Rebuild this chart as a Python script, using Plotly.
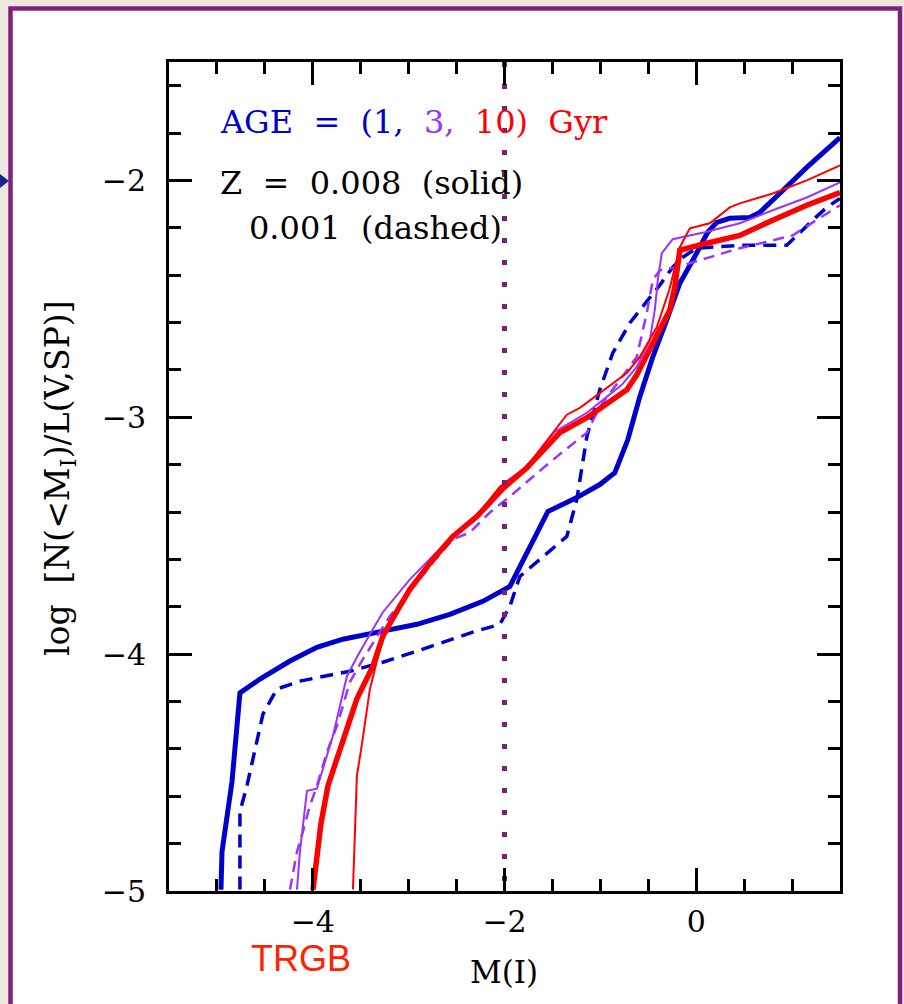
import plotly.graph_objects as go

# ---- data ----
mag_1gyr_z008 = [-4.958, -4.947, -4.843, -4.760, -4.551, -4.238, -3.957, -3.686, -3.269, -2.914,
                 -2.570, -2.226, -1.944, -1.548, -1.246, -1.006, -0.849, -0.714, -0.589, -0.453,
                 -0.307, -0.171, -0.036, 0.120, 0.214, 0.350, 0.558, 0.663, 0.871, 1.153, 1.5]
logn_1gyr_z008 = [-4.994, -4.834, -4.539, -4.164, -4.105, -4.029, -3.971, -3.937, -3.903, -3.874,
                  -3.832, -3.777, -3.714, -3.398, -3.339, -3.284, -3.234, -3.095, -2.914, -2.745,
                  -2.589, -2.434, -2.337, -2.219, -2.177, -2.160, -2.156, -2.135, -2.055, -1.945, -1.819]

mag_1gyr_z001 = [-4.760, -4.760, -4.687, -4.520, -4.374, -4.134, -3.613, -3.269, -2.851, -2.330,
                 -2.049, -1.944, -1.840, -1.350, -1.246, -1.141, -1.006, -0.870, -0.693, -0.516,
                 -0.380, -0.245, -0.140, 0.006, 0.454, 0.944, 1.048, 1.215, 1.361, 1.5]
logn_1gyr_z001 = [-4.994, -4.665, -4.556, -4.253, -4.147, -4.114, -4.072, -4.034, -3.979, -3.907,
                  -3.874, -3.798, -3.672, -3.503, -3.347, -3.082, -2.884, -2.728, -2.602, -2.514,
                  -2.442, -2.366, -2.324, -2.286, -2.274, -2.274, -2.232, -2.168, -2.114, -2.076]

mag_3gyr_z008 = [-4.165, -4.134, -4.061, -3.957, -3.894, -3.790, -3.644, -3.540, -3.404, -3.269,
                 -2.987, -2.747, -2.518, -2.257, -2.017, -1.767, -1.475, -1.141, -0.776, -0.620,
                 -0.484, -0.432, -0.401, -0.359, -0.245, 0.089, 0.454, 0.798, 1.153, 1.5]
logn_3gyr_z008 = [-4.994, -4.834, -4.577, -4.568, -4.484, -4.345, -4.093, -4.013, -3.916, -3.823,
                  -3.684, -3.583, -3.491, -3.398, -3.297, -3.208, -3.061, -2.981, -2.863, -2.787,
                  -2.674, -2.547, -2.421, -2.307, -2.248, -2.219, -2.181, -2.126, -2.072, -2.008]

mag_3gyr_z001 = [-4.238, -4.165, -4.103, -4.030, -3.957, -3.852, -3.748, -3.613, -3.477, -3.331,
                 -3.196, -2.987, -2.747, -2.539, -2.361, -2.153, -1.944, -1.704, -1.454, -1.141,
                 -1.006, -0.797, -0.620, -0.516, -0.453, -0.380, -0.203, 0.110, 0.454, 0.798,
                 1.007, 1.215, 1.5]
logn_3gyr_z001 = [-4.994, -4.834, -4.749, -4.640, -4.556, -4.413, -4.303, -4.118, -4.021, -3.924,
                  -3.840, -3.735, -3.613, -3.516, -3.486, -3.402, -3.335, -3.251, -3.166, -3.065,
                  -2.956, -2.842, -2.745, -2.560, -2.421, -2.379, -2.366, -2.328, -2.286, -2.253,
                  -2.232, -2.177, -2.105]

mag_10gyr_thick = [-3.998, -3.957, -3.915, -3.842, -3.686, -3.540, -3.373, -3.269, -3.123, -2.987,
                   -2.747, -2.539, -2.288, -2.017, -1.767, -1.558, -1.423, -1.141, -0.724, -0.620,
                   -0.411, -0.276, -0.224, -0.171, 0.110, 0.454, 0.798, 1.153, 1.5]
logn_10gyr_thick = [-4.994, -4.842, -4.716, -4.556, -4.358, -4.189, -4.051, -3.924, -3.819, -3.726,
                    -3.600, -3.503, -3.419, -3.301, -3.213, -3.124, -3.065, -3.002, -2.884, -2.821,
                    -2.661, -2.547, -2.451, -2.295, -2.265, -2.232, -2.168, -2.105, -2.051]

mag_10gyr_thin = [-3.581, -3.560, -3.540, -3.487, -3.404, -3.331, -3.248, -3.123, -2.987, -2.747,
                  -2.539, -2.288, -2.049, -1.767, -1.496, -1.350, -1.214, -0.724, -0.589, -0.411,
                  -0.276, -0.171, -0.067, 0.141, 0.350, 0.454, 0.798, 1.153, 1.5]
logn_10gyr_thin = [-4.994, -4.695, -4.514, -4.379, -4.147, -4.029, -3.903, -3.832, -3.735, -3.604,
                   -3.507, -3.415, -3.293, -3.208, -3.065, -2.989, -2.960, -2.813, -2.745, -2.619,
                   -2.455, -2.282, -2.202, -2.181, -2.114, -2.097, -2.055, -2.000, -1.937]

trgb_mag = [-2.0, -2.0]
trgb_logn = [-1.5, -5.0]

x_range = [-5.5, 1.5]
y_range = [-5.0, -1.5]

BLUE = "#0000cc"
PURPLE = "#9933ff"
RED = "#ff0000"

fig = go.Figure()

fig.add_trace(go.Scatter(x=mag_1gyr_z001, y=logn_1gyr_z001, mode="lines",
                         line=dict(color=BLUE, width=3.5, dash="13px,8px")))
fig.add_trace(go.Scatter(x=mag_1gyr_z008, y=logn_1gyr_z008, mode="lines",
                         line=dict(color=BLUE, width=5)))
fig.add_trace(go.Scatter(x=mag_3gyr_z001, y=logn_3gyr_z001, mode="lines",
                         line=dict(color=PURPLE, width=2.5, dash="11px,7px")))
fig.add_trace(go.Scatter(x=mag_3gyr_z008, y=logn_3gyr_z008, mode="lines",
                         line=dict(color=PURPLE, width=2)))
fig.add_trace(go.Scatter(x=mag_10gyr_thin, y=logn_10gyr_thin, mode="lines",
                         line=dict(color=RED, width=2)))
fig.add_trace(go.Scatter(x=mag_10gyr_thick, y=logn_10gyr_thick, mode="lines",
                         line=dict(color=RED, width=5.5)))
fig.add_trace(go.Scatter(x=trgb_mag, y=trgb_logn, mode="lines",
                         line=dict(color="#7a1f7a", width=5, dash="5px,17px")))

L, R, T, B = 169, 64, 62, 113
W, H = 904, 1004
pw, ph = W - L - R, H - T - B


def px(xp):
    return (xp - L) / pw


def py(yp):
    return (H - B - yp) / ph


serif = "DejaVu Serif"
NB = "\u00a0"

axis_common = dict(
    showline=True, linecolor="black", linewidth=3, mirror="allticks",
    ticks="inside", tickcolor="black", tickwidth=2.5, ticklen=23,
    showgrid=False, zeroline=False,
    tickfont=dict(family=serif, size=30, color="black"),
)

fig.update_xaxes(range=x_range, tickmode="linear", tick0=0, dtick=2,
                 minor=dict(dtick=0.5, tick0=0, ticks="inside", ticklen=12,
                            tickwidth=2.5, tickcolor="black"),
                 ticklabelstandoff=2, **axis_common)
fig.update_yaxes(range=y_range, tickmode="linear", tick0=0, dtick=1,
                 minor=dict(dtick=0.2, tick0=0, ticks="inside", ticklen=12,
                            tickwidth=2.5, tickcolor="black"),
                 ticklabelstandoff=14, **axis_common)

sp2 = NB * 2
annotations = [
    dict(x=px(218), y=py(122), xref="paper", yref="paper", xanchor="left", yanchor="middle",
         showarrow=False, font=dict(family=serif, size=32, color="black"),
         text=(f"<span style='color:{BLUE}'>AGE{sp2}={sp2}(1,{sp2}</span>"
               f"<span style='color:{PURPLE}'>3,{sp2}</span>"
               f"<span style='color:{RED}'>10){sp2}Gyr</span>")),
    dict(x=px(218), y=py(183), xref="paper", yref="paper", xanchor="left", yanchor="middle",
         showarrow=False, font=dict(family=serif, size=32, color="black"),
         text=f"Z{sp2}={sp2}0.008{sp2}(solid)"),
    dict(x=px(247), y=py(228), xref="paper", yref="paper", xanchor="left", yanchor="middle",
         showarrow=False, font=dict(family=serif, size=32, color="black"),
         text=f"0.001{sp2}(dashed)"),
    dict(x=px(59), y=py(478), xref="paper", yref="paper", xanchor="center", yanchor="middle",
         showarrow=False, textangle=-90, font=dict(family=serif, size=33, color="black"),
         text=f"log{sp2}[N(&lt;M<sub>I</sub>)/L(V,SP)]"),
    dict(x=px(504), y=py(972), xref="paper", yref="paper", xanchor="center", yanchor="middle",
         showarrow=False, font=dict(family=serif, size=31, color="black"),
         text="M(I)"),
    dict(x=px(301), y=py(958), xref="paper", yref="paper", xanchor="center", yanchor="middle",
         showarrow=False, font=dict(family="Liberation Sans", size=36, color="#ff2200"),
         text="TRGB"),
]

shapes = [
    dict(type="rect", xref="paper", yref="paper", layer="below",
         x0=px(10.5), x1=px(900), y0=py(1015), y1=py(8.5),
         fillcolor="white", line=dict(color="#82207f", width=4.5)),
    dict(type="path", xref="paper", yref="paper", layer="above",
         path=f"M {px(0)},{py(174)} L {px(9)},{py(181)} L {px(0)},{py(188)} Z",
         fillcolor="#1a2590", line=dict(width=0)),
]

fig.update_layout(
    width=W, height=H,
    margin=dict(l=L, r=R, t=T, b=B),
    paper_bgcolor="#ede7e0",
    plot_bgcolor="white",
    showlegend=False,
    annotations=annotations,
    shapes=shapes,
)

fig.write_html("out.html")
